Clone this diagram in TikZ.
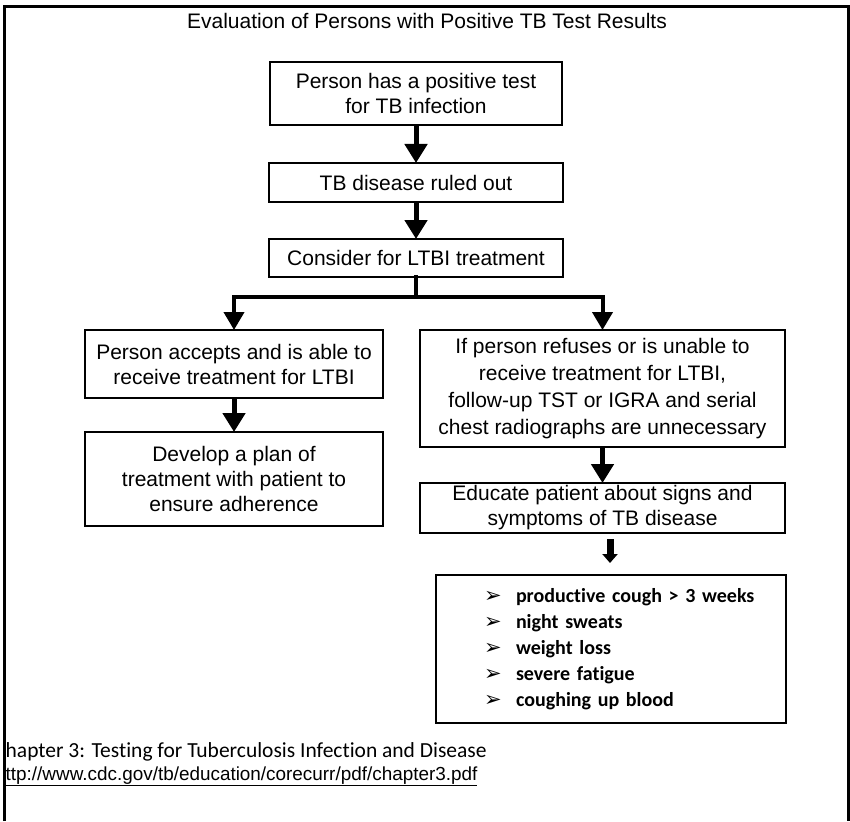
\documentclass[tikz,border=0pt]{standalone}
\usepackage{fontspec}
\setmainfont{Liberation Sans}
\newfontfamily\carlito[Ligatures={NoCommon}]{Carlito}
\newfontfamily\dejavu{DejaVu Sans}
\usetikzlibrary{arrows.meta}
\tikzset{
  box/.style={draw, line width=2pt, inner sep=0pt, outer sep=0pt, align=center,
    font=\fontsize{21}{25}\selectfont},
  listbox/.style={draw, line width=1.6pt, inner sep=0pt, outer sep=0pt, text width=350pt, align=left,
    font=\carlito\bfseries\fontsize{20}{26}\selectfont},
  arr/.style={line width=5pt, -{Triangle[width=22pt,length=19pt]}},
  branch/.style={line width=4pt, line cap=rect},
  smallarr/.style={line width=7pt, -{Triangle[width=15pt,length=9pt]}},
}
\newcommand{\bul}[1]{\hspace*{48pt}\makebox[32pt][l]{\dejavu\fontsize{21}{26}\selectfont ➢}#1}
\begin{document}
\begin{tikzpicture}[x=1pt,y=-1pt]
\useasboundingbox (0,0) rectangle (850,821);
% frame
\draw[line width=3pt, line join=miter] (4,821) -- (4,6.5) -- (848,6.5) -- (848,821);
% title
\node[anchor=base, font=\fontsize{21}{25}\selectfont] (title) at (427,29) {Evaluation of Persons with Positive TB Test Results};
% boxes
\node[box, minimum width=292, minimum height=63] (b1) at (416,93.5) {Person has a positive test\\for TB infection};
\node[box, minimum width=294, minimum height=39] (b2) at (416,182.5) {TB disease ruled out};
\node[box, minimum width=294, minimum height=38] (b3) at (416,258) {Consider for LTBI treatment};
\node[box, minimum width=298, minimum height=68] (b4) at (234,364) {Person accepts and is able to\\receive treatment for LTBI};
\node[box, minimum width=298, minimum height=94] (b5) at (234,479) {Develop a plan of\\treatment with patient to\\ensure adherence};
\node[box, minimum width=365, minimum height=117, font=\fontsize{21}{27}\selectfont] (b6) at (602.5,388.5) {If person refuses or is unable to\\receive treatment for LTBI,\\follow-up TST or IGRA and serial\\chest radiographs are unnecessary};
\node[box, minimum width=365, minimum height=50] (b7) at (602.5,508) {Educate patient about signs and\\symptoms of TB disease};
\node[listbox, minimum height=148] (b8) at (611,649) {\bul{productive cough > 3 weeks}\\\bul{night sweats}\\\bul{weight loss}\\\bul{severe fatigue}\\\bul{coughing up blood}};
% connectors
\draw[arr] (b1.south) -- (b2.north);
\draw[arr] (b2.south) -- (b3.north);
\coordinate (j) at (416,297);
\coordinate (jl) at (234,297);
\coordinate (jr) at (602.5,297);
\draw[branch] (b3.south) -- (j);
\draw[branch] (jl) -- (jr);
\draw[arr, line width=4pt, -{Triangle[width=20pt,length=18pt]}] (jl) -- (b4.north);
\draw[arr, line width=4pt, -{Triangle[width=20pt,length=18pt]}] (jr) -- (b6.north);
\draw[arr] (b4.south) -- (b5.north);
\draw[arr] (b6.south) -- (b7.north);
\coordinate (s1) at (610,539);
\coordinate (s2) at (610,563);
\draw[smallarr] (s1) -- (s2);
% footer
\begin{scope}
\clip (5.5,730) rectangle (850,800);
\node[anchor=base west, inner sep=0pt, font=\carlito\fontsize{21.5}{24}\selectfont] (f1) at (5.5,757) {\llap{C}hapter 3: Testing for Tuberculosis Infection and Disease};
\node[anchor=base west, inner sep=0pt, font=\fontsize{18.9}{22}\selectfont] (f2) at (5.5,780) {\underline{\llap{h}ttp://www.cdc.gov/tb/education/corecurr/pdf/chapter3.pdf}};
\end{scope}
\end{tikzpicture}
\end{document}
